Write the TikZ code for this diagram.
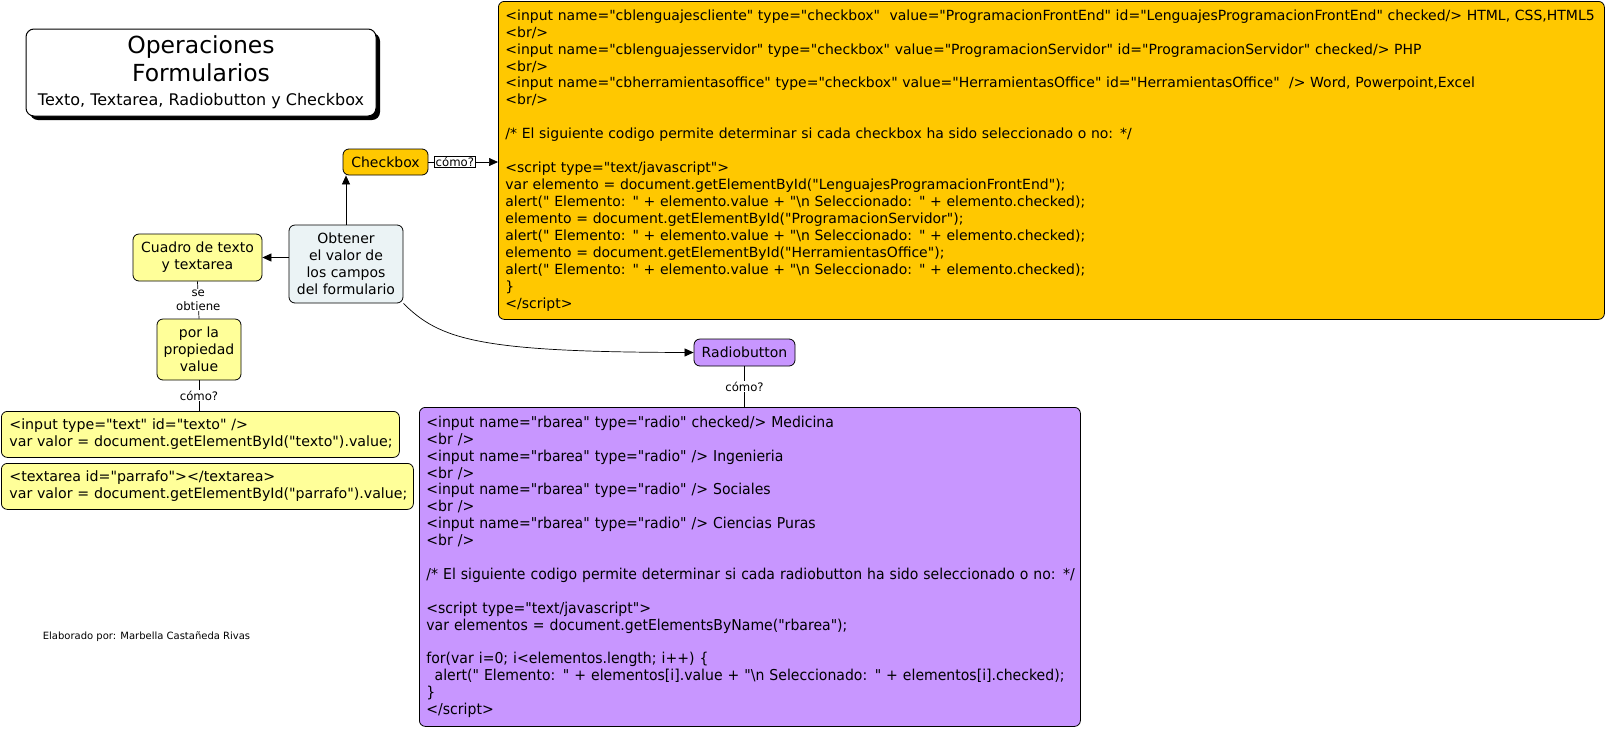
\documentclass[tikz,border=0pt]{standalone}
\usepackage{fontspec}
\setmainfont{DejaVu Sans}
\newfontfamily\djv{DejaVu Sans}
\newfontfamily\condfont[FakeStretch=0.936]{DejaVu Sans}
\usetikzlibrary{arrows.meta,shadows}
\definecolor{cbfill}{RGB}{255,200,0}
\definecolor{rbfill}{RGB}{200,150,255}
\definecolor{lyfill}{RGB}{255,255,153}
\definecolor{cnfill}{RGB}{235,243,245}
\begin{document}
\begin{tikzpicture}[x=1pt,y=-1pt,
  concept/.style={draw=black, line width=0.8pt, rounded corners=6pt, align=center, inner sep=0pt, font=\djv\fontsize{14}{17}\selectfont},
  codebox/.style={draw=black, line width=0.8pt, rounded corners=6pt, align=left, anchor=north west, inner xsep=7pt, inner ysep=0pt, font=\djv\fontsize{14}{16.95}\selectfont},
  link/.style={line width=0.7pt},
  arr/.style={link, -{Triangle[length=9pt,width=8pt]}},
  lbl/.style={fill=white, inner sep=0.5pt, font=\djv\fontsize{11.7}{14}\selectfont, align=center},
  boxlbl/.style={lbl, draw=black, line width=0.6pt, inner sep=1pt}]

\useasboundingbox (0,0) rectangle (1607,729);

% title
\node[draw=black, fill=white, line width=1pt, rounded corners=8pt, minimum width=350pt, minimum height=87pt, inner sep=0pt, align=center,
      font=\djv\fontsize{23.5}{28}\selectfont,
      drop shadow={shadow xshift=4pt, shadow yshift=-4pt, fill=black, opacity=1}] (title) at (201,72.5)
  {Operaciones\\Formularios\\[-4pt]\fontsize{16}{28}\selectfont Texto, Textarea, Radiobutton y Checkbox};

% concept nodes
\node[concept, fill=cbfill, minimum width=85pt, minimum height=26pt] (checkbox) at (385.5,162) {Checkbox};
\node[concept, fill=cnfill, minimum width=114pt, minimum height=78pt] (central) at (346,264) {Obtener\\el valor de\\los campos\\del formulario};
\node[concept, fill=lyfill, minimum width=129pt, minimum height=47pt] (cuadro) at (197.5,257.5) {Cuadro de texto\\y textarea};
\node[concept, fill=lyfill, minimum width=84pt, minimum height=61pt] (porla) at (199,349.5) {por la\\propiedad\\value};
\node[concept, fill=rbfill, minimum width=101pt, minimum height=27pt] (radio) at (744.5,352.5) {Radiobutton};

% code boxes
\node[codebox, fill=cbfill, minimum width=1106pt, minimum height=318pt, text width=1092pt] (cbcode) at (498,1) {%
\mbox{<input name="cblenguajescliente" type="checkbox"\ \ value="ProgramacionFrontEnd" id="LenguajesProgramacionFrontEnd" checked/> HTML, CSS,HTML5}\\
<br/>\\
<input name="cblenguajesservidor" type="checkbox" value="ProgramacionServidor" id="ProgramacionServidor" checked/> PHP\\
<br/>\\
<input name="cbherramientasoffice" type="checkbox" value="HerramientasOffice" id="HerramientasOffice"\ \ /> Word, Powerpoint,Excel\\
<br/>\\
\mbox{}\\
/* El siguiente codigo permite determinar si cada checkbox ha sido seleccionado o no: */\\
\mbox{}\\
<script type="text/javascript">\\
var elemento = document.getElementById("LenguajesProgramacionFrontEnd");\\
alert(" Elemento: " + elemento.value + "\textbackslash n Seleccionado: " + elemento.checked);\\
elemento = document.getElementById("ProgramacionServidor");\\
alert(" Elemento: " + elemento.value + "\textbackslash n Seleccionado: " + elemento.checked);\\
elemento = document.getElementById("HerramientasOffice");\\
alert(" Elemento: " + elemento.value + "\textbackslash n Seleccionado: " + elemento.checked);\\
\}\\
</script>};

\node[codebox, fill=rbfill, minimum width=661pt, minimum height=319pt, text width=647pt, font=\condfont\fontsize{15}{16.9}\selectfont] (rbcode) at (419,407) {%
<input name="rbarea" type="radio" checked/> Medicina\\
<br />\\
<input name="rbarea" type="radio" /> Ingenieria\\
<br />\\
<input name="rbarea" type="radio" /> Sociales\\
<br />\\
<input name="rbarea" type="radio" /> Ciencias Puras\\
<br />\\
\mbox{}\\
\mbox{/* El siguiente codigo permite determinar si cada radiobutton ha sido seleccionado o no: */}\\
\mbox{}\\
<script type="text/javascript">\\
var elementos = document.getElementsByName("rbarea");\\
\mbox{}\\
for(var i=0; i<elementos.length; i++) \{\\
\mbox{\hspace*{0.55em}alert(" Elemento: " + elementos[i].value + "\textbackslash n Seleccionado: " + elementos[i].checked);}\\
\}\\
</script>};

\node[codebox, fill=lyfill, minimum width=398pt, minimum height=46pt, inner xsep=8pt, text width=382pt, font=\djv\fontsize{14.2}{17}\selectfont] (tbox) at (1,411) {%
<input type="text" id="texto" />\\
\mbox{var valor = document.getElementById("texto").value;}};
\node[codebox, fill=lyfill, minimum width=412pt, minimum height=46pt, inner xsep=8pt, text width=396pt, font=\djv\fontsize{14.2}{17}\selectfont] (tabox) at (1,463) {%
<textarea id="parrafo"></textarea>\\
\mbox{var valor = document.getElementById("parrafo").value;}};

% footer
\node[font=\djv\fontsize{10}{12}\selectfont, inner sep=0pt] (footer) at (146.5,637) {Elaborado por: Marbella Castañeda Rivas};

% connectors
\draw[arr] (central.north) -- (central.north |- checkbox.south);
\draw[arr] (checkbox.east) -- node[boxlbl, pos=0.38] {cómo?} (checkbox.east -| cbcode.west);
\draw[arr] (central.west |- cuadro.east) -- (cuadro.east);
\draw[link] (cuadro.south) -- node[lbl] {se\\obtiene} (porla.north);
\draw[link] (porla.south) -- node[lbl] {cómo?} (porla.south |- tbox.north);
\draw[arr] (central.south east) .. controls (440,340) and (480,352) .. (radio.west);
\draw[link] (radio.south) -- node[lbl] {cómo?} (radio.south |- rbcode.north);
\end{tikzpicture}
\end{document}
